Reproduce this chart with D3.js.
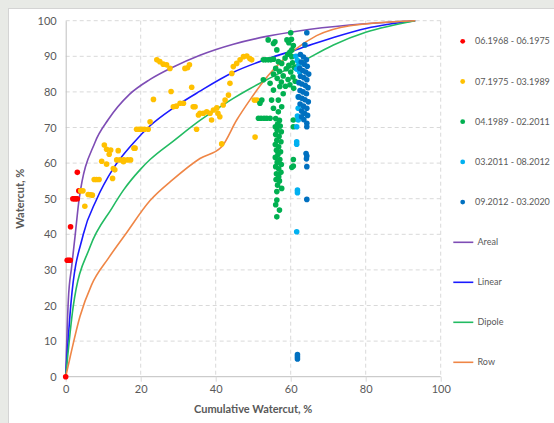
<!DOCTYPE html>
<html lang="en">
<head>
<meta charset="UTF-8"/>
<title>Watercut vs Cumulative Watercut</title>
<script src="https://d3js.org/d3.v7.min.js"></script>
<style>
	body { margin: 0; background: #ffffff; }
	svg { display: block; font-family: Lato, "Open Sans", sans-serif; }
</style>
</head>
<body>
<script>
	// period scatter data [cumulative watercut %, watercut %]
	var period1 = [[0,0],[0.4,32.7],[0.8,32.7],[1.2,32.7],[1.3,42.1],[1.9,50],[2.3,50],[2.7,50],[3.1,50],[3.5,52.2],[3.1,57.4]];
	var period2 = [[4.0,52.2],[4.6,52.2],[5.1,47.9],[6.0,51.2],[6.6,51.1],[7.1,51],[7.6,55.4],[8.2,55.4],[8.9,55.4],[9.6,60.5],[10.3,65.1],[10.9,63.9],[10.9,59.7],[11.6,62.5],[12.0,63.7],[12.5,55.7],[12.7,58.5],[13.1,58.1],[13.6,60.9],[14.0,63.5],[14.5,60.9],[15.4,60.4],[15.5,60.9],[16.5,60.9],[17.3,60.9],[18.2,64.2],[18.5,64.2],[18.9,69.5],[19.6,69.5],[20.3,69.5],[21.0,69.5],[22.0,69.5],[22.5,71.6],[23.4,77.9],[24.3,89],[25.1,88.5],[26.0,87.8],[26.9,87.6],[27.8,86.6],[28.1,80.1],[28.7,75.8],[29.5,76],[30.5,76.8],[31.4,76.8],[31.8,86.6],[32.5,86.8],[33.0,87.6],[33.6,81.3],[34.0,75.8],[34.5,75.8],[34.9,69.5],[35.4,73.5],[35.8,74],[36.7,74],[37.6,74.4],[38.5,74],[38.9,72.1],[39.4,74.9],[40.3,75.5],[40.6,74],[41.1,73],[41.6,65.4],[42.0,76.3],[42.5,77.7],[43.4,79.1],[43.8,82.4],[44.3,85.2],[44.7,87.1],[45.6,88],[46.5,89],[47.4,89.9],[48.3,90.1],[49.1,89.4],[49.6,89],[50.3,77.7],[51.0,77.7],[50.5,67.3]];
	var period3 = [[54.0,94.6],[55.4,93.6],[55.8,94.1],[56.3,91.8],[59.0,94.6],[59.5,93.8],[60.0,96.6],[60.2,94.8],[60.7,93.0],[60.3,91.8],[60.3,89.9],
		[52.7,89],[53.3,89],[54.0,89],[54.7,89],[55.4,89.2],
		[56.7,88.5],[57.6,88],[58.5,89.5],[59.2,90.5],[59.8,91.2],[60.5,88.2],[59.5,87.5],[58.8,86.5],[60.0,85.6],[61.0,86.8],[60.6,84.2],[59.3,83.5],[58.0,84.5],[57.0,85.8],[56.0,86.6],[55.4,85.0],[56.4,83.8],[57.5,82.8],[58.6,81.6],[59.8,82.0],[60.8,81.0],[61.2,83.0],
		[52.7,83.4],[54.5,82.4],[55.4,80.5],[57.1,81.5],[58.0,79.5],[56.7,77.7],[52.3,77.7],[54.9,77.7],[51.8,76.8],[55.4,75.4],[57.6,75.8],[56.7,74.4],
		[51.4,72.6],[52.1,72.6],[52.9,72.6],[53.6,72.6],[54.5,72.6],
		[56.0,72.5],[57.0,72.0],[56.5,71.0],[55.9,70.2],[57.2,70.4],[56.4,69.2],[57.5,68.8],[56.0,68.0],[56.9,67.5],[56.3,66.4],[57.4,66.0],[55.9,65.2],[56.8,64.6],[56.2,63.6],[57.3,63.2],[56.6,62.4],[55.9,61.6],[57.1,61.0],[56.4,60.2],[57.5,59.6],[56.0,59.0],[56.8,58.4],[57.4,57.4],[56.2,57.0],[56.8,56.2],[56.1,55.4],[57.0,55.0],[56.5,53.8],[57.6,52.9],[56.3,52.0],[56.3,49.6],[57.0,46.8],[56.3,44.9],[56.0,48.3],
		[60.7,72.1],[60.7,70.2],[60.7,61],[60.7,59.2],[60.3,58.8]];
	var period4 = [[61.4,90.0],[61.8,88.8],[62.2,87.6],[61.6,86.4],[62.4,85.6],[62.0,78.6],[62.0,75.4],[61.8,73.2],[62.0,72.1],[61.6,70.2],[61.6,66.0],[61.6,65.3],[61.8,52.4],[61.8,51.7],[61.6,40.7]];
	var period5 = [[64.3,96.6],[63.8,93.2],[62.6,90.5],[63.4,89.8],[64.2,89.0],[62.8,88.4],[63.6,87.8],[64.4,87.2],[62.4,86.6],[63.2,86.0],[64.0,85.6],[64.8,85.0],[62.6,84.4],[63.5,84.0],[64.3,83.4],[62.2,82.6],[63.0,82.2],[63.9,81.8],[64.6,81.2],[62.5,80.4],[63.3,80.0],[64.2,79.5],[62.1,78.6],[63.0,78.2],[63.8,77.8],[64.7,77.2],[62.5,76.6],[63.4,76.0],[64.3,75.4],[62.9,74.6],[63.7,74.0],[64.5,73.4],[62.9,73.0],[63.5,72.2],[64.3,71.2],[64.3,70.2],[64.1,62.7],[64.3,62.0],[64.2,61.2],[64.3,59.0],[64.3,49.8],[61.8,6.2],[61.8,5.6],[61.8,5.0]];

	// model curves
	var areal = [[0,0],[0.7,21.5],[1.6,31],[2.5,39.5],[3.6,50],[7.8,65.8],[11.4,72.3],[17,79.3],[22.5,83.5],[28.7,87],[35.8,90.3],[44.7,93.4],[53.6,95.6],[62.5,97.2],[75.8,98.8],[93.2,100]];
	var linear = [[0,0],[1.4,20.6],[4.7,40],[8.2,49.7],[12.7,58.5],[18,65.6],[22.5,70.5],[28.7,75.5],[35.8,80.2],[44.7,85.5],[53.6,89.2],[62.5,92.2],[71.4,95.3],[80.3,97.9],[93.2,100]];
	var dipole = [[0,0],[2,19.7],[6.5,36.5],[12.3,47.3],[15.4,52.4],[19.8,58.1],[22.5,61],[28.7,66.2],[35.8,72],[40.3,75.2],[44.7,78.2],[49.1,80.9],[53.6,83.4],[62.5,88.2],[71.4,93.2],[80.2,96.8],[93.2,100]];
	var row = [[0,0],[1.2,5.6],[3.8,16.9],[6.9,25.8],[11.4,33.3],[15.8,39.8],[22.5,49.5],[28.7,55.5],[35.8,61.3],[41.6,64.6],[45.6,72.1],[49.1,77.7],[54,84.6],[60.7,91.5],[66.9,95.8],[75.8,98.6],[93.2,100]];

	var scatterNames = ["06.1968 - 06.1975", "07.1975 - 03.1989", "04.1989 - 02.2011", "03.2011 - 08.2012", "09.2012 - 03.2020"];
	var lineNames = ["Areal", "Linear", "Dipole", "Row"];
	var xTicks = [0, 20, 40, 60, 80, 100];
	var yTicks = [0, 10, 20, 30, 40, 50, 60, 70, 80, 90, 100];

	var scatterSets = [period1, period2, period3, period4, period5];
	var scatterColors = ["#ff0000", "#ffc000", "#00b050", "#00b0f0", "#0070c0"];
	var lineSets = [areal, linear, dipole, row];
	var lineColors = ["#7e4db5", "#1a1aff", "#22bb62", "#ef8646"];

	var w = 554, h = 423;
	var plotLeft = 65.7, plotRight = 440.7, plotTop = 20.7, plotBottom = 376.7;

	var xScale = d3.scaleLinear().domain([0, 100]).range([plotLeft, plotRight]);
	var yScale = d3.scaleLinear().domain([0, 100]).range([plotBottom, plotTop]);

	var svg = d3.select("body").append("svg")
		.attr("width", w)
		.attr("height", h);

	// frame
	svg.append("rect").attr("width", w).attr("height", h).attr("fill", "#e8eae6");
	svg.append("rect").attr("x", 8.5).attr("y", 8.5).attr("width", w).attr("height", h)
		.attr("fill", "#ffffff").attr("stroke", "#d4d4d4");

	// gridlines
	svg.append("g").selectAll("line")
		.data(yTicks.filter(function(d){ return d > 0; }))
		.enter().append("line")
		.attr("x1", plotLeft).attr("x2", plotRight)
		.attr("y1", function(d){ return yScale(d); })
		.attr("y2", function(d){ return yScale(d); })
		.attr("stroke", "#d9d9d9").attr("stroke-dasharray", "4,3");

	svg.append("g").selectAll("line")
		.data(xTicks.filter(function(d){ return d > 0; }))
		.enter().append("line")
		.attr("y1", plotTop).attr("y2", plotBottom)
		.attr("x1", function(d){ return xScale(d); })
		.attr("x2", function(d){ return xScale(d); })
		.attr("stroke", "#d9d9d9").attr("stroke-dasharray", "4,3");

	// axes
	var xAxis = d3.axisBottom(xScale).tickValues(xTicks).tickSize(5).tickPadding(4);
	var yAxis = d3.axisLeft(yScale).tickValues(yTicks).tickSize(0).tickPadding(9);

	var gx = svg.append("g")
		.attr("transform", "translate(0," + plotBottom + ")")
		.call(xAxis);
	var gy = svg.append("g")
		.attr("transform", "translate(" + plotLeft + ",0)")
		.call(yAxis);

	[gx, gy].forEach(function(g){
		g.select(".domain").attr("stroke", "#bfbfbf");
		g.selectAll(".tick line").attr("stroke", "#d9d9d9");
		g.selectAll(".tick text").attr("fill", "#595959").style("font-size", "11px").style("font-family", "Lato, sans-serif");
	});
	gx.select(".domain").attr("d", "M" + plotLeft + ",0H" + plotRight);

	// model lines
	var line = d3.line()
		.x(function(d){ return xScale(d[0]); })
		.y(function(d){ return yScale(d[1]); })
		.curve(d3.curveMonotoneX);

	lineSets.forEach(function(s, i){
		svg.append("path")
			.datum(s)
			.attr("d", line)
			.attr("fill", "none")
			.attr("stroke", lineColors[i])
			.attr("stroke-width", 1.6);
	});

	// scatter points
	scatterSets.forEach(function(s, i){
		svg.append("g").selectAll("circle")
			.data(s)
			.enter().append("circle")
			.attr("cx", function(d){ return xScale(d[0]); })
			.attr("cy", function(d){ return yScale(d[1]); })
			.attr("r", 2.8)
			.attr("fill", scatterColors[i]);
	});

	// axis titles
	svg.append("text")
		.attr("x", (plotLeft + plotRight) / 2)
		.attr("y", 413)
		.attr("text-anchor", "middle")
		.attr("fill", "#595959")
		.style("font-size", "11px")
		.style("font-weight", "bold")
		.text("Cumulative Watercut, %");

	svg.append("text")
		.attr("transform", "translate(24," + ((plotTop + plotBottom) / 2) + ") rotate(-90)")
		.attr("text-anchor", "middle")
		.attr("fill", "#595959")
		.style("font-size", "11px")
		.style("font-weight", "bold")
		.text("Watercut, %");

	// legend
	var legend = svg.append("g");
	scatterNames.forEach(function(name, i){
		var ly = 41.3 + i * 40.2;
		legend.append("circle").attr("cx", 462.7).attr("cy", ly).attr("r", 2.4).attr("fill", scatterColors[i]);
		legend.append("text").attr("x", 475).attr("y", ly).attr("dy", "0.35em")
			.attr("fill", "#595959").style("font-size", "9px").text(name);
	});
	lineNames.forEach(function(name, i){
		var ly = 242.3 + i * 40;
		legend.append("line").attr("x1", 453.3).attr("x2", 473.3).attr("y1", ly).attr("y2", ly)
			.attr("stroke", lineColors[i]).attr("stroke-width", 1.6);
		legend.append("text").attr("x", 477.5).attr("y", ly).attr("dy", "0.35em")
			.attr("fill", "#595959").style("font-size", "9px").text(name);
	});
</script>
</body>
</html>
